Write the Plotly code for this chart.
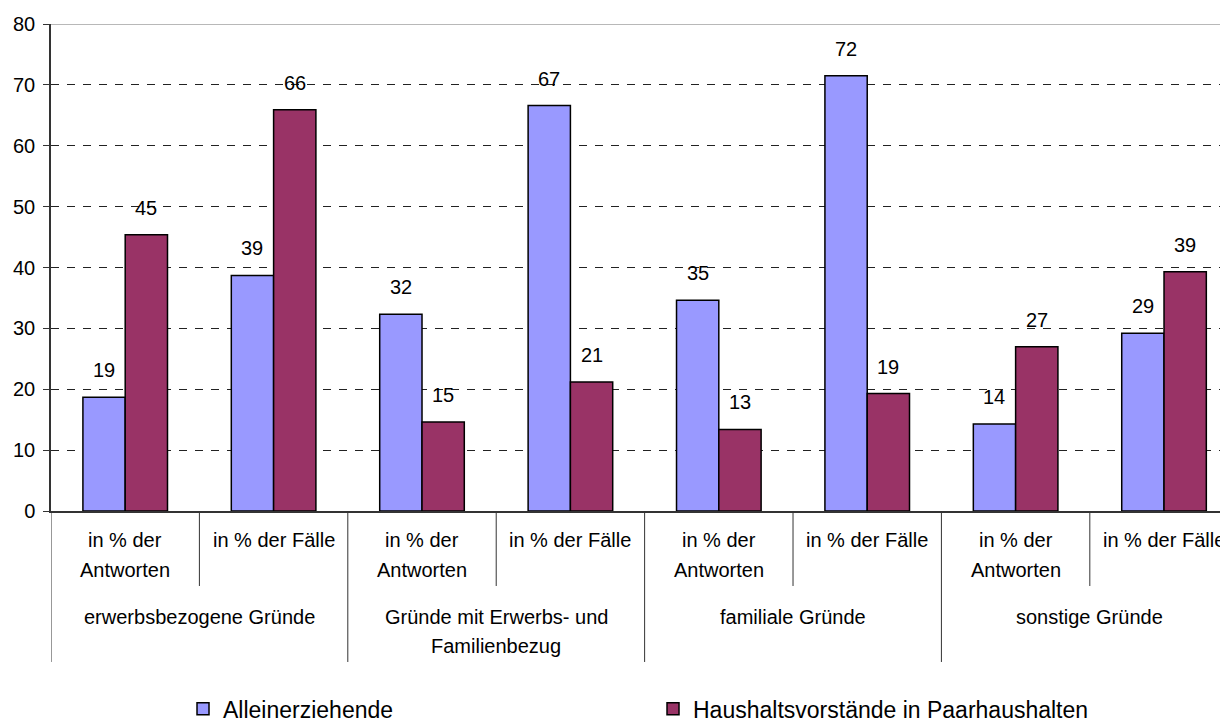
import plotly.graph_objects as go

# ---- data ----
sub_labels = ["in % der<br>Antworten", "in % der Fälle"] * 4
main_labels = ["erwerbsbezogene Gründe", "Gründe mit Erwerbs- und<br>Familienbezug",
               "familiale Gründe", "sonstige Gründe"]
series_names = ["Alleinerziehende", "Haushaltsvorstände in Paarhaushalten"]
allein = [18.7, 38.7, 32.3, 66.6, 34.6, 71.5, 14.3, 29.2]
paar = [45.4, 65.9, 14.6, 21.2, 13.4, 19.3, 27.0, 39.3]
y_ticks = [0, 10, 20, 30, 40, 50, 60, 70, 80]

FONT = "Arial, 'Liberation Sans', sans-serif"
FS = 20
BLUE = "#9999FF"
MAROON = "#993366"
BARGAP = 0.43


def fmt(v):
    return str(int(v + 0.5))


x = list(range(len(allein)))
fig = go.Figure()
fig.add_trace(go.Bar(x=x, y=allein, name=series_names[0],
                     marker=dict(color=BLUE, line=dict(color="black", width=1.5))))
fig.add_trace(go.Bar(x=x, y=paar, name=series_names[1],
                     marker=dict(color=MAROON, line=dict(color="black", width=1.5))))

annotations = []
off = (1 - BARGAP) / 4
for i, (a, p) in enumerate(zip(allein, paar)):
    for xv, v in ((i - off, a), (i + off, p)):
        annotations.append(dict(x=xv, y=v, xref="x", yref="y", text=fmt(v),
                                showarrow=False, yanchor="middle", yshift=27,
                                font=dict(family=FONT, size=FS, color="black")))

# sub-category labels (one annotation per line)
for i, lab in enumerate(sub_labels):
    for k, line in enumerate(lab.split("<br>")):
        annotations.append(dict(x=i, y=0, xref="x", yref="paper", text=line,
                                showarrow=False, yanchor="middle", yshift=-29 - 30 * k,
                                font=dict(family=FONT, size=FS, color="black")))
# main category labels
for j, lab in enumerate(main_labels):
    for k, line in enumerate(lab.split("<br>")):
        annotations.append(dict(x=2 * j + 0.5, y=0, xref="x", yref="paper", text=line,
                                showarrow=False, yanchor="middle", yshift=-106 - 29 * k,
                                font=dict(family=FONT, size=FS, color="black")))

shapes = []
LINE = "#333333"
for i in range(len(allein)):
    b = i - 0.5
    y1 = -0.31 if i % 2 == 0 else -0.154
    shapes.append(dict(type="line", xref="x", yref="paper", x0=b, x1=b, y0=0, y1=y1,
                       line=dict(color=LINE, width=1)))
# top border line at 80
shapes.append(dict(type="line", xref="paper", yref="y", x0=0, x1=1, y0=80, y1=80,
                   line=dict(color="#A0A0A0", width=1.5)))

fig.update_layout(
    width=1228, height=722,
    margin=dict(l=43, r=0, t=16, b=219, autoexpand=False),
    paper_bgcolor="white", plot_bgcolor="white",
    barmode="group", bargap=BARGAP, bargroupgap=0,
    font=dict(family=FONT, size=FS, color="black"),
    showlegend=True,
    legend=dict(orientation="h", x=0.1114, xanchor="left", y=-0.406, yanchor="middle",
                font=dict(family=FONT, size=23, color="black"),
                entrywidth=425, entrywidthmode="pixels", traceorder="normal"),
    annotations=annotations, shapes=shapes,
    xaxis=dict(range=[-0.5, 7.485], showticklabels=False, showgrid=False, zeroline=False,
               showline=True, linecolor=LINE, linewidth=1.5, ticks="", automargin=False),
    yaxis=dict(range=[0, 80], tickvals=y_ticks, showgrid=True, gridcolor="#222222",
               griddash="8px,8px", gridwidth=1, zeroline=False, showline=True,
               linecolor=LINE, linewidth=1.5, ticks="outside", ticklen=6, tickcolor=LINE,
               ticklabelstandoff=4, automargin=False,
               tickfont=dict(family=FONT, size=FS, color="black")),
)

fig.write_html("out.html")
